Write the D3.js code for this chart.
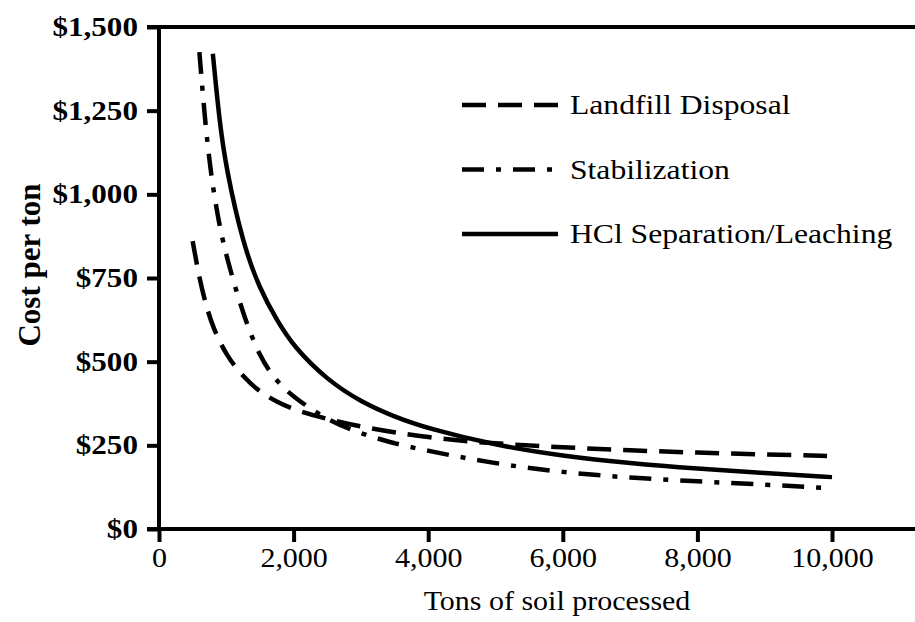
<!DOCTYPE html>
<html>
<head>
<meta charset="utf-8">
<script src="https://cdn.jsdelivr.net/npm/d3@7"></script>
<style>
  body { margin: 0; background: #fff; }
  svg { display: block; font-family: "Liberation Serif", "Times New Roman", serif; }
</style>
</head>
<body>
<svg id="chart" width="915" height="622"></svg>
<script>
var seriesNames = ["Landfill Disposal", "Stabilization", "HCl Separation/Leaching"];

var landfillTons = [500, 600, 700, 800, 1000, 1250, 1500, 1750, 2000, 2500, 3000, 4000, 5000, 6000, 7000, 8000, 9000, 10000];
var landfillCost = [860, 748, 668, 603, 518, 455, 409, 380, 357, 328, 305, 272, 255, 244, 235, 228, 223, 218];

var stabTons = [600, 700, 800, 900, 1000, 1250, 1500, 1750, 2000, 2500, 3000, 3500, 4000, 5000, 6000, 7000, 8000, 9000, 9850];
var stabCost = [1425, 1180, 1020, 905, 815, 640, 512, 440, 394, 325, 285, 255, 233, 195, 169, 153, 142, 133, 123];

var hclTons = [800, 900, 1000, 1250, 1500, 1750, 2000, 2500, 3000, 3500, 4000, 5000, 6000, 7000, 8000, 9000, 10000];
var hclCost = [1420, 1215, 1075, 850, 716, 624, 545, 445, 380, 335, 300, 250, 218, 196, 180, 167, 155];

var xTicks = [0, 2000, 4000, 6000, 8000, 10000];
var yTicks = [0, 250, 500, 750, 1000, 1250, 1500];

var svg = d3.select("#chart"),
    width = 915,
    height = 622,
    sx = 1.11;   // the scan is a bit wider than tall

var x = d3.scaleLinear().domain([0, 10000]).range([159, 832]);
var y = d3.scaleLinear().domain([0, 1500]).range([529, 27]);

var series = [
  {name: seriesNames[0], tons: landfillTons, cost: landfillCost, dash: "24,12"},
  {name: seriesNames[1], tons: stabTons, cost: stabCost, dash: "22,12,5,12"},
  {name: seriesNames[2], tons: hclTons, cost: hclCost, dash: null}
];

var line = d3.line()
    .x(function(d) { return x(d[0]); })
    .y(function(d) { return y(d[1]); })
    .curve(d3.curveBasis);

// axes
var yAxis = svg.append("g")
    .attr("transform", "translate(" + x(0) + ",0)")
    .call(d3.axisLeft(y).tickValues(yTicks).tickSize(12).tickPadding(7).tickFormat(d3.format("$,")))
    .attr("font-family", null);
yAxis.select(".domain").remove();
yAxis.selectAll(".tick line").attr("stroke", "#000").attr("stroke-width", 4);
yAxis.selectAll(".tick text")
    .attr("fill", "#000")
    .attr("dy", "0.3em")
    .style("font-size", "28px")
    .style("font-weight", "bold")
    .attr("transform", "scale(" + sx + ",1)");

var xAxis = svg.append("g")
    .attr("transform", "translate(0," + y(0) + ")")
    .call(d3.axisBottom(x).tickValues(xTicks).tickSize(13).tickPadding(6).tickFormat(d3.format(",")))
    .attr("font-family", null);
xAxis.select(".domain").remove();
xAxis.selectAll(".tick line").attr("stroke", "#000").attr("stroke-width", 4);
xAxis.selectAll(".tick text")
    .attr("fill", "#000")
    .style("font-size", "27px")
    .attr("transform", "scale(" + sx + ",1)");

// axis lines + top border
svg.append("line")
    .attr("x1", x(0)).attr("x2", x(0))
    .attr("y1", y(1500)).attr("y2", y(0))
    .attr("stroke", "#000").attr("stroke-width", 4);
svg.append("line")
    .attr("x1", x(0) - 12).attr("x2", width)
    .attr("y1", y(0)).attr("y2", y(0))
    .attr("stroke", "#000").attr("stroke-width", 4);
svg.append("line")
    .attr("x1", x(0) - 12).attr("x2", width)
    .attr("y1", y(1500)).attr("y2", y(1500))
    .attr("stroke", "#000").attr("stroke-width", 4);

// curves
svg.selectAll(".serie")
  .data(series)
  .enter().append("path")
    .attr("class", "serie")
    .attr("fill", "none")
    .attr("stroke", "#000")
    .attr("stroke-width", 4.5)
    .attr("stroke-dasharray", function(d) { return d.dash; })
    .attr("d", function(d) { return line(d3.zip(d.tons, d.cost)); });

// legend
var legend = svg.selectAll(".legend")
  .data(series)
  .enter().append("g")
    .attr("class", "legend")
    .attr("transform", function(d, i) { return "translate(462," + (105 + i * 64.5) + ")"; });

legend.append("line")
    .attr("x1", 0).attr("x2", 96)
    .attr("stroke", "#000")
    .attr("stroke-width", 4.5)
    .attr("stroke-dasharray", function(d) { return d.dash; });

legend.append("text")
    .attr("transform", "translate(108,9) scale(" + (sx + 0.02) + ",1)")
    .attr("fill", "#000")
    .style("font-size", "28px")
    .text(function(d) { return d.name; });

// axis titles
svg.append("text")
    .attr("transform", "translate(557,610) scale(" + sx + ",1)")
    .attr("text-anchor", "middle")
    .attr("fill", "#000")
    .style("font-size", "27px")
    .text("Tons of soil processed");

svg.append("text")
    .attr("transform", "translate(40,265) rotate(-90)")
    .attr("text-anchor", "middle")
    .attr("fill", "#000")
    .style("font-size", "31px")
    .style("font-weight", "bold")
    .text("Cost per ton");
</script>
</body>
</html>
